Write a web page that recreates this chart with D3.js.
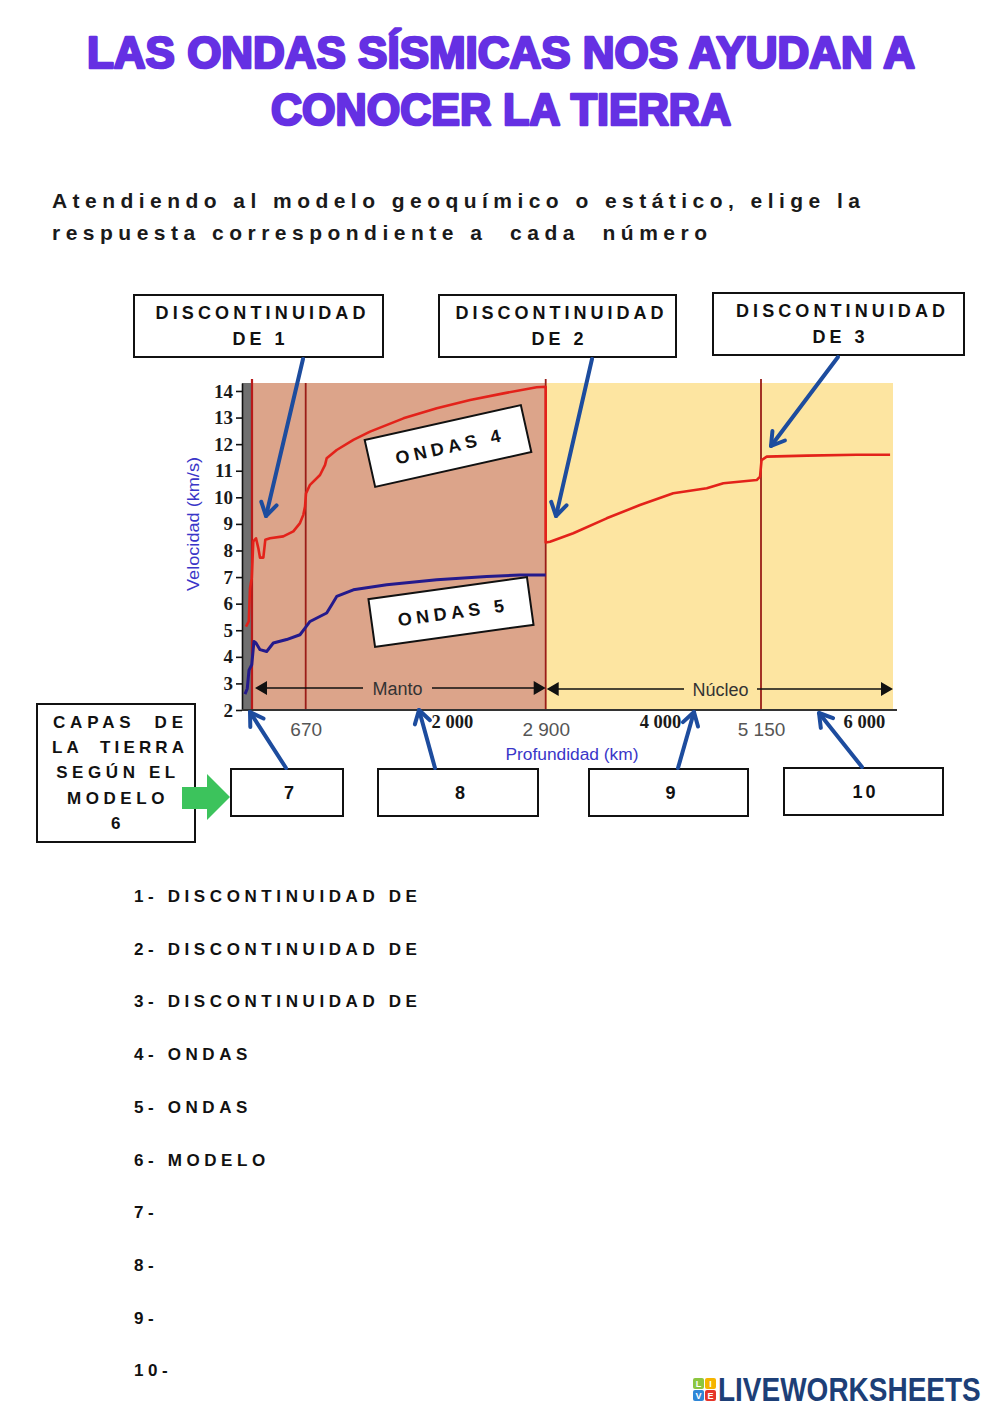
<!DOCTYPE html>
<html>
<head>
<meta charset="utf-8">
<script src="https://cdn.jsdelivr.net/npm/d3@7.9.0/dist/d3.min.js"></script>
<style>
  body { margin: 0; background: #fff; }
  svg { display: block; }
  text { font-family: "Liberation Sans", Arial, sans-serif; }
</style>
</head>
<body>
<svg id="sheet" width="1000" height="1414"></svg>
<script>
// depth (km) tick values and labels
const greyTicks = [670, 2900, 5150];
const greyTickLabels = ['670', '2 900', '5 150'];
const boldTicks = [2000, 4000, 6000];
const boldTickLabels = ['2 000', '4 000', '6 000'];
const velTicks = [2, 3, 4, 5, 6, 7, 8, 9, 10, 11, 12, 13, 14];

// layers: crust, mantle, core (km)
const layerNames = ['Corteza', 'Manto', 'Núcleo'];
const layerStart = [0, 40, 2900];
const layerEnd = [40, 2900, 6371];
const discontinuities = [40, 670, 2900, 5150];

// P waves (ondas 4)
const pDepth = [16, 27, 32, 39, 55, 87, 114, 134, 173, 196, 251, 407, 525, 603, 642, 662, 673, 710, 803, 850, 865, 958, 1113, 1268, 1578, 1888, 2198, 2508, 2816, 2900, 2900, 2945, 3188, 3537, 3885, 4233, 4583, 4757, 5105, 5140, 5155, 5203, 5573, 6035, 6344];
const pVel = [5.14, 5.33, 6.58, 6.96, 8.34, 8.46, 8.09, 7.73, 7.73, 8.4, 8.46, 8.53, 8.72, 9.03, 9.34, 9.65, 10.15, 10.47, 10.84, 11.22, 11.47, 11.78, 12.16, 12.47, 12.97, 13.35, 13.66, 13.91, 14.14, 14.16, 8.3, 8.33, 8.65, 9.21, 9.71, 10.15, 10.34, 10.53, 10.65, 10.78, 11.4, 11.53, 11.57, 11.6, 11.6];

// S waves (ondas 5)
const sDepth = [12, 21, 28, 39, 63, 87, 134, 212, 290, 446, 603, 662, 710, 865, 912, 958, 1113, 1423, 1888, 2353, 2663, 2900];
const sVel = [2.6, 2.8, 3.5, 3.7, 4.58, 4.52, 4.27, 4.2, 4.52, 4.65, 4.83, 5.08, 5.33, 5.65, 5.96, 6.27, 6.52, 6.71, 6.9, 7.02, 7.08, 7.08];

const questions = ['1- DISCONTINUIDAD DE', '2- DISCONTINUIDAD DE', '3- DISCONTINUIDAD DE', '4- ONDAS', '5- ONDAS', '6- MODELO', '7-', '8-', '9-', '10-'];

const svg = d3.select('#sheet');

// piecewise depth scale (the original drawing is not to scale)
const x = d3.scaleLinear()
  .domain([0, 40, 670, 2900, 5150, 6371])
  .range([242, 252, 305.7, 545.7, 761, 893]);
const y = d3.scaleLinear().domain([2, 14.3]).range([710, 383]);

// ---------- title ----------
const title = svg.append('g')
  .attr('fill', '#6530e3')
  .attr('stroke', '#6530e3')
  .attr('stroke-width', 2.6)
  .attr('stroke-linejoin', 'round')
  .style('font-family', 'Lato, "Open Sans", "DejaVu Sans", sans-serif')
  .style('font-weight', 900)
  .style('font-size', '44px')
  .attr('text-anchor', 'middle');
title.append('text').attr('x', 501).attr('y', 68)
  .attr('textLength', 828).attr('lengthAdjust', 'spacingAndGlyphs')
  .text('LAS ONDAS SÍSMICAS NOS AYUDAN A');
title.append('text').attr('x', 501).attr('y', 125)
  .attr('textLength', 460).attr('lengthAdjust', 'spacingAndGlyphs')
  .text('CONOCER LA TIERRA');

// ---------- instructions ----------
svg.append('text').attr('x', 52).attr('y', 208)
  .attr('textLength', 808).attr('lengthAdjust', 'spacing')
  .style('font-weight', 700).style('font-size', '21px').attr('fill', '#1a1a1a')
  .text('Atendiendo al modelo geoquímico o estático, elige la');
svg.append('text').attr('x', 52).attr('y', 240)
  .attr('textLength', 655).attr('lengthAdjust', 'spacing')
  .style('font-weight', 700).style('font-size', '21px').attr('fill', '#1a1a1a')
  .style('white-space', 'pre')
  .text('respuesta correspondiente a  cada  número');

// ---------- chart ----------
const chart = svg.append('g');

const layerFill = ['#707070', '#dca48a', '#fde5a1'];
chart.selectAll('rect.layer')
  .data(layerNames)
  .join('rect')
  .attr('class', 'layer')
  .attr('x', (d, i) => x(layerStart[i]))
  .attr('width', (d, i) => x(layerEnd[i]) - x(layerStart[i]))
  .attr('y', y(14.3))
  .attr('height', y(2) - y(14.3))
  .attr('fill', (d, i) => layerFill[i]);

chart.selectAll('line.disc')
  .data(discontinuities)
  .join('line')
  .attr('class', 'disc')
  .attr('x1', (d) => x(d)).attr('x2', (d) => x(d))
  .attr('y1', (d) => (d === 670 ? y(14.3) : y(14.3) - 4))
  .attr('y2', y(2))
  .attr('stroke', (d) => (d === 40 ? '#b81a1a' : '#9a1d18'))
  .attr('stroke-width', (d) => (d === 40 ? 2.2 : 1.8));

const line = d3.line().x((d) => x(d[0])).y((d) => y(d[1]));

chart.append('path')
  .datum(d3.zip(pDepth, pVel))
  .attr('d', line)
  .attr('fill', 'none')
  .attr('stroke', '#e3221a')
  .attr('stroke-width', 2.6)
  .attr('stroke-linejoin', 'round');

chart.append('path')
  .datum(d3.zip(sDepth, sVel))
  .attr('d', line)
  .attr('fill', 'none')
  .attr('stroke', '#241a8c')
  .attr('stroke-width', 3)
  .attr('stroke-linejoin', 'round');

// y axis
const yAxis = chart.append('g')
  .attr('transform', `translate(${x(0)},0)`)
  .call(d3.axisLeft(y).tickValues(velTicks).tickSize(6).tickSizeOuter(0).tickPadding(3));
yAxis.select('.domain').attr('stroke', '#111').attr('stroke-width', 1.6);
yAxis.selectAll('.tick line').attr('stroke', '#111').attr('stroke-width', 1.6);
yAxis.selectAll('.tick text')
  .style('font-family', '"Liberation Serif", "Times New Roman", serif')
  .style('font-weight', 700)
  .style('font-size', '19px')
  .attr('fill', '#1a1a1a');

// x axis (grey labels)
const xAxis = chart.append('g')
  .attr('transform', `translate(0,${y(2)})`)
  .call(d3.axisBottom(x).tickValues(greyTicks).tickSize(0).tickPadding(13)
    .tickFormat((d, i) => greyTickLabels[i]));
xAxis.select('.domain').attr('d', `M${x(0)},0H${x(6371) + 4}`).attr('stroke', '#333').attr('stroke-width', 2);
xAxis.selectAll('.tick text')
  .style('font-size', '19px')
  .attr('fill', '#555');

// x axis (bold labels added on the sheet)
const xAxis2 = chart.append('g')
  .attr('transform', `translate(0,${y(2)})`)
  .call(d3.axisBottom(x).tickValues(boldTicks).tickSize(0).tickPadding(5)
    .tickFormat((d, i) => boldTickLabels[i]));
xAxis2.select('.domain').remove();
xAxis2.selectAll('.tick text')
  .attr('dx', (d, i) => [3, 9, 11][i])
  .style('font-family', '"Liberation Serif", "Times New Roman", serif')
  .style('font-weight', 700)
  .style('font-size', '18.5px')
  .attr('fill', '#1a1a1a');

chart.append('text')
  .attr('transform', `translate(199,${524}) rotate(-90)`)
  .attr('text-anchor', 'middle')
  .attr('fill', '#3a36c8')
  .style('font-size', '16px')
  .attr('textLength', 134).attr('lengthAdjust', 'spacingAndGlyphs')
  .text('Velocidad (km/s)');

chart.append('text')
  .attr('x', 572).attr('y', 760)
  .attr('text-anchor', 'middle')
  .attr('fill', '#3a36c8')
  .style('font-size', '16px')
  .attr('textLength', 133).attr('lengthAdjust', 'spacingAndGlyphs')
  .text('Profundidad (km)');

// layer span arrows
function spanArrow(x0, x1, yy, label, gap0, gap1) {
  const g = chart.append('g');
  g.append('path').attr('d', `M${x0 + 10},${yy}H${gap0}M${gap1},${yy}H${x1 - 10}`)
    .attr('stroke', '#111').attr('stroke-width', 1.6);
  g.append('path').attr('d', `M${x0},${yy}l12,-7v14z M${x1},${yy}l-12,-7v14z`).attr('fill', '#111');
  g.append('text').attr('x', (gap0 + gap1) / 2).attr('y', yy + 7)
    .attr('text-anchor', 'middle').attr('fill', '#333').style('font-size', '18px').text(label);
}
spanArrow(x(40) + 3, x(2900), 688, layerNames[1], 363, 432);
spanArrow(x(2900) + 1, x(6371), 689, layerNames[2], 684, 757);

// ---------- label boxes ----------
function box(bx, by, bw, bh, lines, opts = {}) {
  const g = svg.append('g');
  g.append('rect').attr('x', bx).attr('y', by).attr('width', bw).attr('height', bh)
    .attr('fill', '#fff').attr('stroke', '#111').attr('stroke-width', 2);
  lines.forEach((t, i) => {
    const tx = g.append('text')
      .attr('x', bx + bw / 2 + 2)
      .attr('y', by + (opts.top || 24) + i * (opts.lh || 26))
      .attr('text-anchor', 'middle')
      .attr('fill', '#111')
      .style('font-weight', 700)
      .style('font-size', (opts.fs || 17) + 'px')
      .style('letter-spacing', (opts.ls == null ? 4.5 : opts.ls) + 'px')
      .style('white-space', 'pre')
      .text(t);
    if (opts.lengths && opts.lengths[i]) {
      tx.attr('textLength', opts.lengths[i]).attr('lengthAdjust', 'spacing').style('letter-spacing', null);
    }
  });
  return g;
}

box(134, 295, 249, 62, ['DISCONTINUIDAD', 'DE 1'], { top: 24, lh: 26, fs: 18, ls: 4, lengths: [210] });
box(439, 295, 237, 62, ['DISCONTINUIDAD', 'DE 2'], { top: 24, lh: 26, fs: 18, ls: 4, lengths: [208] });
box(713, 293, 251, 62, ['DISCONTINUIDAD', 'DE 3'], { top: 24, lh: 26, fs: 18, ls: 4, lengths: [209] });

box(37, 704, 158, 138, ['CAPAS  DE', 'LA  TIERRA', 'SEGÚN EL', 'MODELO', '6'],
  { top: 24, lh: 25.2, ls: 4.6, fs: 17, lengths: [130, 132] });

box(231, 769, 112, 47, ['7'], { top: 30, ls: 0, fs: 18 });
box(378, 769, 160, 47, ['8'], { top: 30, ls: 0, fs: 18 });
box(589, 769, 159, 47, ['9'], { top: 30, ls: 0, fs: 18 });
box(784, 768, 159, 47, ['10'], { top: 30, ls: 3, fs: 18 });

// rotated wave labels
function tiltedBox(cx, cy, angle, label) {
  const g = svg.append('g').attr('transform', `translate(${cx},${cy}) rotate(${angle})`);
  g.append('rect').attr('x', -80).attr('y', -24).attr('width', 160).attr('height', 48)
    .attr('fill', '#fff').attr('stroke', '#111').attr('stroke-width', 2);
  g.append('text').attr('x', 2).attr('y', 7).attr('text-anchor', 'middle')
    .attr('fill', '#111').style('font-weight', 700).style('font-size', '18px')
    .style('letter-spacing', '4.5px').text(label);
}
tiltedBox(448, 446, -12.6, 'ONDAS 4');
tiltedBox(451, 612, -7.9, 'ONDAS 5');

// green arrow
svg.append('path')
  .attr('d', 'M182,787H207V774L230,797L207,820V809H182Z')
  .attr('fill', '#3cc35c');

// blue pointer arrows
function pointer(x0, y0, x1, y1) {
  const a = Math.atan2(y0 - y1, x0 - x1);
  const L = 15, s = 0.55;
  const g = svg.append('g').attr('stroke', '#1d4c9e').attr('stroke-width', 4)
    .attr('stroke-linecap', 'round').attr('fill', 'none');
  g.append('line').attr('x1', x0).attr('y1', y0).attr('x2', x1).attr('y2', y1);
  g.append('path').attr('d',
    `M${x1 + L * Math.cos(a + s)},${y1 + L * Math.sin(a + s)}L${x1},${y1}L${x1 + L * Math.cos(a - s)},${y1 + L * Math.sin(a - s)}`)
    .attr('stroke-linejoin', 'round');
}
pointer(303, 359, 266, 516);
pointer(592, 359, 556, 516);
pointer(838, 357, 771, 446);
pointer(286, 768, 250, 712);
pointer(435, 768, 419, 710);
pointer(678, 768, 694, 712);
pointer(862, 767, 819, 713);

// ---------- questions ----------
svg.append('g').selectAll('text')
  .data(questions)
  .join('text')
  .attr('x', 134)
  .attr('y', (d, i) => 902 + i * 52.7)
  .attr('fill', '#111')
  .style('font-weight', 700)
  .style('font-size', '17px')
  .style('letter-spacing', '4.6px')
  .text((d) => d);

// ---------- logo ----------
const logo = svg.append('g');
const logoCells = [['L', '#8cc63f', 0, 0], ['I', '#f5b400', 1, 0], ['V', '#2f86d6', 0, 1], ['E', '#e5352b', 1, 1]];
logoCells.forEach(([t, c, i, j]) => {
  logo.append('rect').attr('x', 693 + i * 12).attr('y', 1378 + j * 12).attr('width', 11).attr('height', 11)
    .attr('rx', 2).attr('fill', c);
  logo.append('text').attr('x', 698.5 + i * 12).attr('y', 1387 + j * 12).attr('text-anchor', 'middle')
    .attr('fill', '#fff').style('font-size', '9px').style('font-weight', 700).text(t);
});
logo.append('text')
  .attr('transform', 'translate(718,1401) scale(1,1.18)')
  .attr('fill', '#1d3f77').style('font-weight', 700).style('font-size', '28px')
  .text('LIVEWORKSHEETS');
</script>
</body>
</html>
